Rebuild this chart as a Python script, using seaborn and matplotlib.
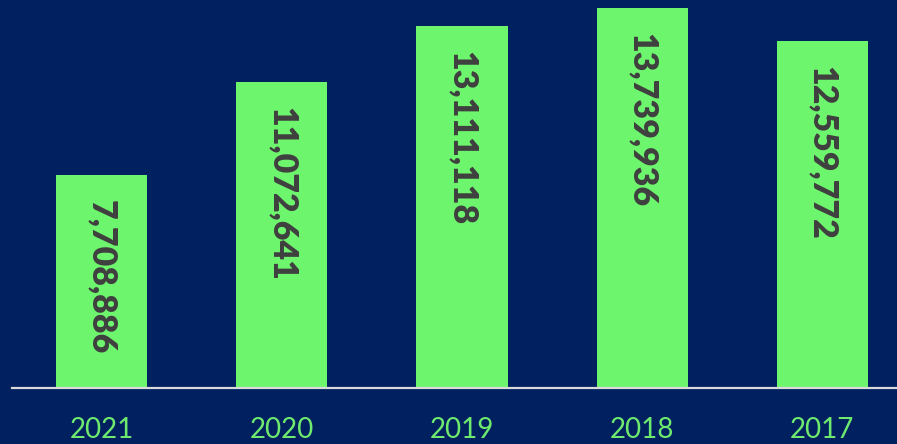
import matplotlib
matplotlib.use("Agg")
import matplotlib.pyplot as plt
import seaborn as sns
import pandas as pd

years = ["2021", "2020", "2019", "2018", "2017"]
values = [7708886, 11072641, 13111118, 13739936, 12559772]

BG = "#002060"
BAR = "#6EF56E"
TICK = "#6EEB6E"
LABEL = "#3F3F3F"

sns.set_theme(style="white")
plt.rcParams["font.family"] = ["Lato", "DejaVu Sans"]

df = pd.DataFrame({"year": years, "value": values})

fig = plt.figure(figsize=(8.97, 4.44), dpi=100)
fig.patch.set_facecolor(BG)
ax = fig.add_axes([11.5 / 897, 56 / 444, 901 / 897, 388 / 444])
ax.set_facecolor(BG)

sns.barplot(data=df, x="year", y="value", order=years, color=BAR,
            saturation=1, width=0.505, ax=ax, edgecolor="none")

ax.set_xlim(-0.5, 4.5)
ax.set_ylim(0, 14040000)

for i, v in enumerate(values):
    ax.annotate(f"{v:,}", xy=(i, v), xytext=(0, -25), textcoords="offset pixels",
                rotation=270, ha="center", va="top", fontsize=24.5,
                fontweight="heavy", color=LABEL)

for s in ["top", "right", "left"]:
    ax.spines[s].set_visible(False)
ax.spines["bottom"].set_color("#D9D9D9")
ax.spines["bottom"].set_linewidth(1.6)

ax.set_yticks([])
ax.set_xlabel("")
ax.set_ylabel("")
ax.tick_params(axis="x", length=0, pad=21, labelsize=20, labelcolor=TICK)

fig.savefig("out.png", dpi=100, facecolor=BG)
